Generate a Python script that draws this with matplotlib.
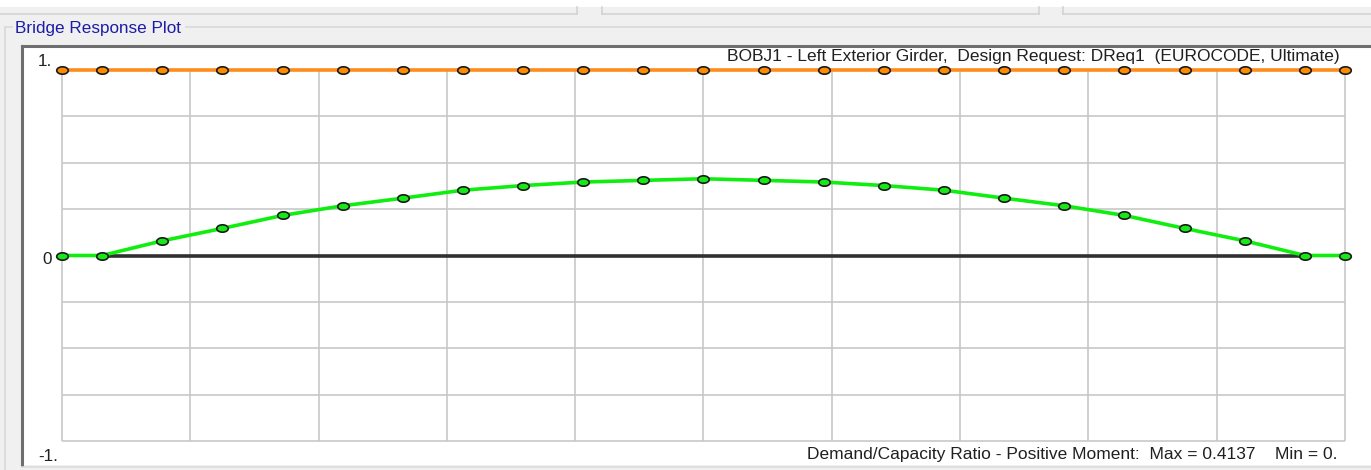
import matplotlib
matplotlib.use("Agg")
import matplotlib.pyplot as plt
from matplotlib.path import Path
from matplotlib.patches import Rectangle
from matplotlib.lines import Line2D
import numpy as np

# ---------------- data ----------------
station = [0.0, 3.12, 7.81, 12.5, 17.19, 21.88, 26.56, 31.25, 35.94, 40.63, 45.31,
           50.0, 54.69, 59.37, 64.06, 68.75, 73.44, 78.12, 82.81, 87.5, 92.19, 96.88, 100.0]
capacity = [1.0] * 23
dcr = [0.0, 0.0, 0.079, 0.146, 0.216, 0.268, 0.309, 0.352, 0.377, 0.396, 0.405,
       0.4137, 0.405, 0.396, 0.377, 0.352, 0.309, 0.268, 0.216, 0.146, 0.079, 0.0, 0.0]
x_grid = [0, 10, 20, 30, 40, 50, 60, 70, 80, 90, 100]
y_grid = [-1.0, -0.75, -0.5, -0.25, 0.0, 0.25, 0.5, 0.75, 1.0]
y_labels = {1.0: "1.", 0.0: "0", -1.0: "-1."}
header = "BOBJ1 - Left Exterior Girder,  Design Request: DReq1  (EUROCODE, Ultimate)"
footer = "Demand/Capacity Ratio - Positive Moment:  Max = 0.4137    Min = 0."
group_title = "Bridge Response Plot"

W, H = 1371, 470
FS = 12.3
FS2 = 12.55
fig = plt.figure(figsize=(W / 100, H / 100), dpi=100)
fig.patch.set_facecolor("#f0f0f0")
plt.rcParams['font.family'] = ['Liberation Sans', 'DejaVu Sans']

def fx(px):
    return px / W

def fy(py):
    return 1 - py / H

# window chrome
fig.add_artist(Rectangle((0, fy(7)), 1, 7 / H, transform=fig.transFigure,
                         facecolor="white", edgecolor="none"))
for x0, x1 in [(-5, 577), (602, 1039), (1063, 1380)]:
    fig.add_artist(Line2D([fx(x0), fx(x1)], [fy(14), fy(14)], transform=fig.transFigure,
                          color="#d4d4d4", lw=1.2))
    for xv in (x0, x1):
        fig.add_artist(Line2D([fx(xv), fx(xv)], [fy(7), fy(14)], transform=fig.transFigure,
                              color="#d4d4d4", lw=1.2))
# group box
fig.add_artist(Line2D([fx(5), fx(12)], [fy(27), fy(27)], transform=fig.transFigure,
                      color="#d8d8d8", lw=1.2))
fig.add_artist(Line2D([fx(186), fx(1371)], [fy(27), fy(27)], transform=fig.transFigure,
                      color="#d8d8d8", lw=1.2))
fig.add_artist(Line2D([fx(5), fx(5)], [fy(27), fy(470)], transform=fig.transFigure,
                      color="#d8d8d8", lw=1.2))
fig.text(fx(15), fy(28), group_title, color="#1c1ca8", fontsize=FS,
         ha="left", va="center")

# plot panel
pl, pr, pt, pb = 22, 1371, 46, 465
ax = fig.add_axes([fx(pl), fy(pb), (pr - pl) / W, (pb - pt) / H])
ax.set_facecolor("white")
for s in ax.spines.values():
    s.set_visible(False)
ax.set_xticks([])
ax.set_yticks([])

# data <-> pixel mapping
gx0, gx1 = 62, 1345   # pixels for x=0 and x=100
gy1, gym1 = 70, 441   # pixels for y=1 and y=-1
sx = (gx1 - gx0) / (x_grid[-1] - x_grid[0])
sy = (gym1 - gy1) / 2.0
ax.set_xlim(x_grid[0] - (gx0 - pl) / sx, x_grid[-1] + (pr - gx1) / sx)
ax.set_ylim(-1 - (pb - gym1) / sy, 1 + (gy1 - pt) / sy)

# panel sunken border
fig.add_artist(Line2D([fx(pl), fx(pr)], [fy(pt), fy(pt)], transform=fig.transFigure,
                      color="#6e6e6e", lw=2.2))
fig.add_artist(Line2D([fx(pl), fx(pl)], [fy(pt), fy(pb)], transform=fig.transFigure,
                      color="#6e6e6e", lw=2.2))
fig.add_artist(Line2D([fx(pl), fx(pr)], [fy(pb + 2), fy(pb + 2)], transform=fig.transFigure,
                      color="#dcdcdc", lw=1.2))

# grid
gc = "#c8c8c8"
ax.vlines(x_grid, y_grid[0], y_grid[-1], colors=gc, lw=1.2, zorder=1)
ax.hlines(y_grid, x_grid[0], x_grid[-1], colors=gc, lw=1.2, zorder=1)
ax.hlines(0, station[1], station[-2], colors="#303030", lw=2.6, zorder=2)

# ellipse marker
t = np.linspace(0, 2 * np.pi, 40)
ell = Path(np.column_stack([np.cos(t), 0.64 * np.sin(t)]), closed=True)

ax.plot(station, capacity, color="#ff8c1a", lw=2.6, zorder=3,
        marker=ell, markersize=8.3, markerfacecolor="#ff8c00",
        markeredgecolor="#1a1a1a", markeredgewidth=1.2, clip_on=False)
ax.plot(station, dcr, color="#10ee10", lw=2.6, zorder=4,
        marker=ell, markersize=8.3, markerfacecolor="#18e818",
        markeredgecolor="#1a1a1a", markeredgewidth=1.2, clip_on=False)

# y labels
ax.text(x_grid[0] - 0.8, 1.0 + 8 / sy, y_labels[1.0], ha="right", va="center",
        fontsize=FS, color="#202020")
ax.text(x_grid[0] - 0.8, 0.0 - 4 / sy, y_labels[0.0], ha="right", va="center",
        fontsize=FS, color="#202020")
ax.text(x_grid[0] - 0.3, -1.0 - 15 / sy, y_labels[-1.0], ha="right", va="center",
        fontsize=FS, color="#202020")

# header / footer
ax.text(x_grid[-1] - 0.4, 1.0 + 14 / sy, header, ha="right", va="center",
        fontsize=FS2, color="#202020")
ax.text(x_grid[-1] - 0.55, -1.0 - 14 / sy, footer, ha="right", va="center",
        fontsize=FS2, color="#202020")

fig.savefig("out.png", dpi=100, facecolor=fig.get_facecolor())
